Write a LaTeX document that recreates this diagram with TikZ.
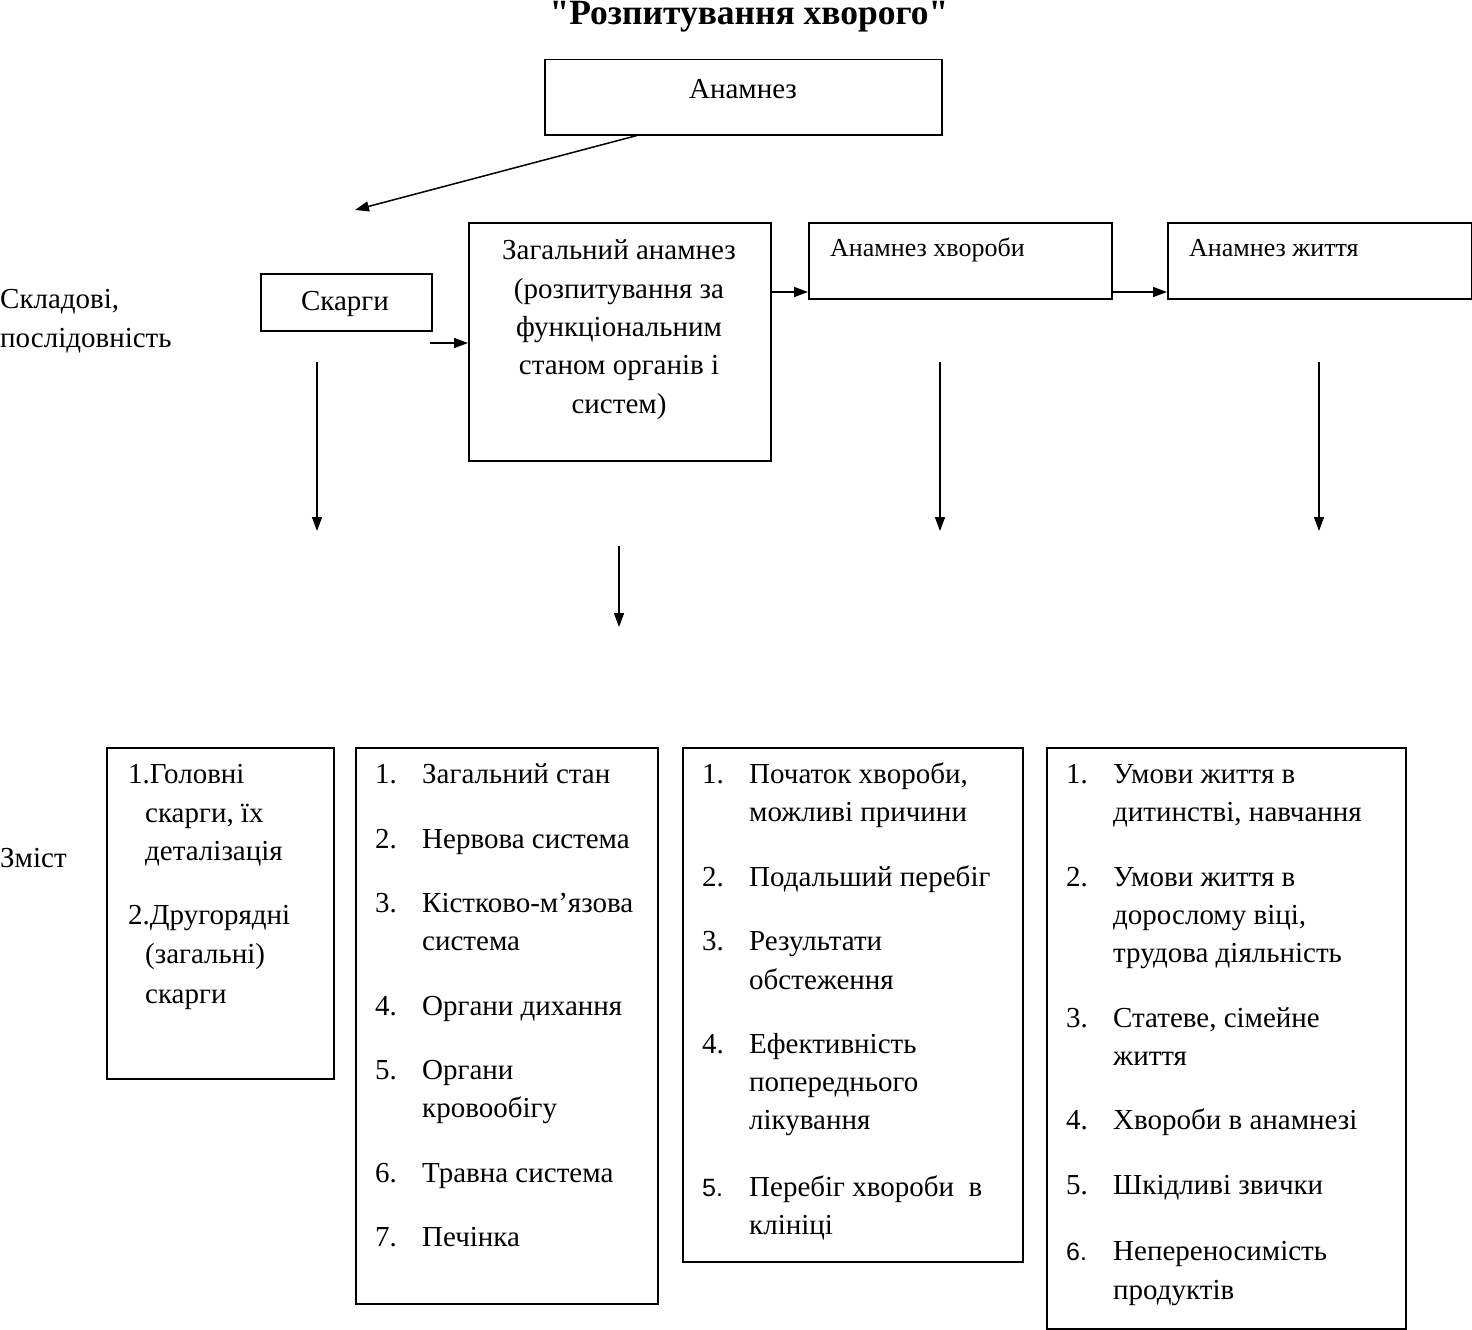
\documentclass[tikz,border=0pt]{standalone}
\usepackage{fontspec}
\setmainfont{Liberation Serif}
\newfontfamily\sansf{Liberation Sans}
\newfontfamily\titlef{Liberation Serif}[Ligatures=TeXOff]
\usetikzlibrary{arrows.meta}
\newcommand\mainsz{\fontsize{29}{38}\selectfont}
\newcommand\smallsz{\fontsize{26}{30}\selectfont}
\tikzset{
  boxst/.style={draw, line width=1.5pt, rectangle, inner sep=0pt, anchor=north west},
  txt/.style={anchor=base west, inner sep=0pt, font=\mainsz},
  ctxt/.style={anchor=base, inner sep=0pt, font=\mainsz},
  stxt/.style={anchor=base west, inner sep=0pt, font=\smallsz},
  numsans/.style={anchor=base west, inner sep=0pt, font=\sansf\fontsize{25}{30}\selectfont},
  arr/.style={line width=1.5pt, -{Triangle[length=14pt,width=10pt]}}
}
\begin{document}
\begin{tikzpicture}[x=1pt,y=-1pt]
\useasboundingbox (0,0) rectangle (1472,1330);
% title
\node[anchor=base, inner sep=0pt, font=\titlef\fontsize{35.5}{38}\selectfont\bfseries] (title) at (749,25) {"Розпитування хворого"};
% top box
\node[boxst, minimum width=397pt, minimum height=75pt] (anam) at (544,59) {};
\node[ctxt] (anamt) at (743,99) {Анамнез};
% row boxes
\node[boxst, minimum width=171pt, minimum height=57pt] (skar) at (260,273) {};
\node[ctxt] (skart) at (345,310) {Скарги};
\node[boxst, minimum width=302pt, minimum height=238pt] (zag) at (468,222) {};
\node[ctxt] (z1) at (619,259) {Загальний анамнез};
\node[ctxt] (z2) at (619,298) {(розпитування за};
\node[ctxt] (z3) at (619,336) {функціональним};
\node[ctxt] (z4) at (619,374) {станом органів і};
\node[ctxt] (z5) at (619,413) {систем)};
\node[boxst, minimum width=303pt, minimum height=76pt] (hvor) at (808,222) {};
\node[stxt] (hvort) at (830,256) {Анамнез хвороби};
\node[boxst, minimum width=304pt, minimum height=76pt] (zhyt) at (1167,222) {};
\node[stxt] (zhytt) at (1189,256) {Анамнез життя};
% left labels
\node[txt] (lab1) at (0,308) {Складові,};
\node[txt] (lab2) at (0,347) {послідовність};
\node[txt] (lab3) at (0,867) {Зміст};
% arrows top
\coordinate (a1e) at (355,210);
\draw[arr] (anam.south west) ++(93,0) coordinate (a1s) -- (a1e);
\coordinate (a2s) at (430,343);
\draw[arr] (a2s) -- (zag.west |- a2s);
\coordinate (a3s) at (770,292);
\draw[arr] (a3s) -- (hvor.west |- a3s);
\coordinate (a4s) at (1111,292);
\draw[arr] (a4s) -- (zhyt.west |- a4s);
% vertical arrows
\coordinate (v1s) at (317,362); \coordinate (v1e) at (317,531);
\coordinate (v2s) at (619,546); \coordinate (v2e) at (619,627);
\coordinate (v3s) at (940,362); \coordinate (v3e) at (940,531);
\coordinate (v4s) at (1319,362); \coordinate (v4e) at (1319,531);
\draw[arr] (v1s) -- (v1e);
\draw[arr] (v2s) -- (v2e);
\draw[arr] (v3s) -- (v3e);
\draw[arr] (v4s) -- (v4e);
% bottom boxes
\node[boxst, minimum width=227pt, minimum height=331pt] (b1) at (106,747) {};
\node[boxst, minimum width=302pt, minimum height=556pt] (b2) at (355,747) {};
\node[boxst, minimum width=340pt, minimum height=514pt] (b3) at (682,747) {};
\node[boxst, minimum width=359pt, minimum height=581pt] (b4) at (1046,747) {};
% box 1 text
\node[txt] (b1a) at (128,783) {1.Головні};
\node[txt] (b1b) at (145,822) {скарги, їх};
\node[txt] (b1c) at (145,860) {деталізація};
\node[txt] (b1d) at (128,924) {2.Другорядні};
\node[txt] (b1e) at (145,963) {(загальні)};
\node[txt] (b1f) at (145,1003) {скарги};
% box 2 text
\node[txt] (b2n1) at (375,783) {1.}; \node[txt] (b2t1) at (422,783) {Загальний стан};
\node[txt] (b2n2) at (375,848) {2.}; \node[txt] (b2t2) at (422,848) {Нервова система};
\node[txt] (b2n3) at (375,912) {3.}; \node[txt] (b2t3) at (422,912) {Кістково-м’язова};
\node[txt] (b2t3b) at (422,950) {система};
\node[txt] (b2n4) at (375,1015) {4.}; \node[txt] (b2t4) at (422,1015) {Органи дихання};
\node[txt] (b2n5) at (375,1079) {5.}; \node[txt] (b2t5) at (422,1079) {Органи};
\node[txt] (b2t5b) at (422,1117) {кровообігу};
\node[txt] (b2n6) at (375,1182) {6.}; \node[txt] (b2t6) at (422,1182) {Травна система};
\node[txt] (b2n7) at (375,1246) {7.}; \node[txt] (b2t7) at (422,1246) {Печінка};
% box 3 text
\node[txt] (b3n1) at (702,783) {1.}; \node[txt] (b3t1) at (749,783) {Початок хвороби,};
\node[txt] (b3t1b) at (749,821) {можливі причини};
\node[txt] (b3n2) at (702,886) {2.}; \node[txt] (b3t2) at (749,886) {Подальший перебіг};
\node[txt] (b3n3) at (702,950) {3.}; \node[txt] (b3t3) at (749,950) {Результати};
\node[txt] (b3t3b) at (749,989) {обстеження};
\node[txt] (b3n4) at (702,1053) {4.}; \node[txt] (b3t4) at (749,1053) {Ефективність};
\node[txt] (b3t4b) at (749,1091) {попереднього};
\node[txt] (b3t4c) at (749,1129) {лікування};
\node[numsans] (b3n5) at (702,1196) {5.};
\node[txt] (b3t5) at (749,1196) {Перебіг хвороби\ \ в};
\node[txt] (b3t5b) at (749,1234) {клініці};
% box 4 text
\node[txt] (b4n1) at (1066,783) {1.}; \node[txt] (b4t1) at (1113,783) {Умови життя в};
\node[txt] (b4t1b) at (1113,821) {дитинстві, навчання};
\node[txt] (b4n2) at (1066,886) {2.}; \node[txt] (b4t2) at (1113,886) {Умови життя в};
\node[txt] (b4t2b) at (1113,924) {дорослому віці,};
\node[txt] (b4t2c) at (1113,962) {трудова діяльність};
\node[txt] (b4n3) at (1066,1027) {3.}; \node[txt] (b4t3) at (1113,1027) {Статеве, сімейне};
\node[txt] (b4t3b) at (1113,1065) {життя};
\node[txt] (b4n4) at (1066,1129) {4.}; \node[txt] (b4t4) at (1113,1129) {Хвороби в анамнезі};
\node[txt] (b4n5) at (1066,1194) {5.}; \node[txt] (b4t5) at (1113,1194) {Шкідливі звички};
\node[numsans] (b4n6) at (1066,1260) {6.};
\node[txt] (b4t6) at (1113,1260) {Непереносимість};
\node[txt] (b4t6b) at (1113,1299) {продуктів};
\end{tikzpicture}
\end{document}
